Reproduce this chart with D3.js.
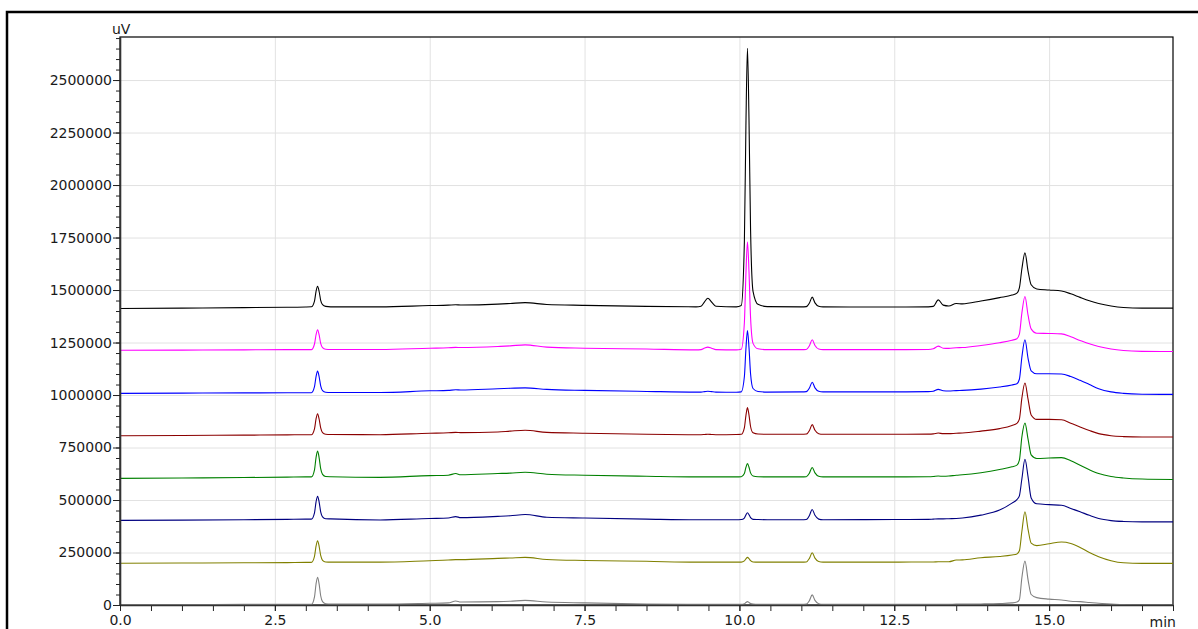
<!DOCTYPE html>
<html>
<head>
<meta charset="utf-8">
<script src="https://cdn.jsdelivr.net/npm/d3@7"></script>
<style>
  body { margin: 0; background: #fff; }
  svg { display: block; font-family: "DejaVu Sans", sans-serif; }
</style>
</head>
<body>
<svg id="chart" width="1198" height="629"></svg>
<script>
// retention time (min), shared by every trace
const times = [
  0, 1.0, 2.0, 2.7, 3.0, 3.09,
  3.14, 3.165, 3.19, 3.215, 3.24, 3.27, 3.32, 3.4,
  4.2, 5.0, 5.3, 5.42, 5.5, 6.1, 6.3, 6.54, 6.89, 7.5, 8.5, 9.3,
  9.38, 9.44, 9.49, 9.55, 9.62,
  9.95,
  10.03, 10.08, 10.105, 10.13, 10.155, 10.18, 10.22, 10.3, 10.45,
  11.0,
  11.08, 11.13, 11.175, 11.22, 11.28, 11.35,
  12.5, 13.05,
  13.13, 13.21, 13.29, 13.38, 13.5, 13.6,
  13.9, 14.2, 14.4, 14.48,
  14.52, 14.56, 14.61, 14.66, 14.71, 14.8,
  15.0, 15.2, 15.35, 15.5, 15.65, 15.8, 16.0, 16.2, 16.5, 17.0
];

// signal of each injection, in thousands of uV
const black = [
  1412, 1414, 1416, 1418, 1419, 1420,
  1447, 1494, 1518, 1493, 1451, 1430, 1422, 1420,
  1420, 1426, 1428, 1430, 1429, 1433, 1436, 1440, 1431, 1427, 1422, 1420,
  1423, 1445, 1461, 1443, 1423,
  1420,
  1426, 1728, 2282, 2651, 2306, 1789, 1494, 1432, 1421,
  1420,
  1421, 1438, 1466, 1439, 1423, 1420,
  1419, 1420,
  1422, 1453, 1428, 1424, 1436, 1434,
  1448, 1464, 1476, 1485,
  1510, 1600, 1677, 1590, 1525, 1505,
  1500, 1495, 1482, 1465, 1449, 1436, 1424, 1417, 1414, 1414
];
const magenta = [
  1213, 1214, 1215, 1216, 1216, 1216,
  1243, 1287, 1311, 1286, 1246, 1226, 1218, 1217,
  1217, 1223, 1225, 1227, 1226, 1231, 1234, 1239, 1228, 1223, 1219, 1215,
  1216, 1224, 1228, 1223, 1216,
  1215,
  1218, 1344, 1576, 1730, 1586, 1370, 1246, 1220, 1216,
  1216,
  1217, 1235, 1263, 1236, 1219, 1216,
  1216, 1217,
  1220, 1233, 1223, 1222, 1225, 1226,
  1236, 1249, 1261, 1268,
  1290, 1390, 1469, 1380, 1315, 1294,
  1293, 1291, 1277, 1260, 1244, 1231, 1219, 1212, 1208, 1207
];
const blue = [
  1008, 1009, 1010, 1011, 1011, 1011,
  1040, 1088, 1114, 1087, 1044, 1021, 1013, 1012,
  1012, 1020, 1022, 1025, 1024, 1030, 1032, 1034, 1027, 1022, 1017, 1014,
  1014, 1016, 1018, 1016, 1014,
  1013,
  1015, 1087, 1219, 1307, 1225, 1101, 1031, 1017, 1014,
  1015,
  1016, 1033, 1061, 1034, 1018, 1015,
  1015, 1016,
  1018, 1027, 1020, 1019, 1021, 1022,
  1028, 1038, 1048, 1054,
  1075, 1180, 1263, 1175, 1115, 1101,
  1101, 1100, 1088, 1070, 1050, 1030, 1015, 1008, 1004, 1003
];
const darkRed = [
  806, 807, 809, 810, 811, 811,
  839, 886, 911, 885, 843, 821, 813, 812,
  811, 818, 820, 822, 821, 824, 828, 832, 822, 818, 813, 811,
  811, 812, 813, 812, 811,
  812,
  813, 844, 902, 940, 904, 850, 820, 814, 813,
  813,
  814, 831, 859, 832, 816, 813,
  813, 814,
  815, 819, 816, 816, 818, 819,
  828, 840, 855, 865,
  885, 985, 1057, 980, 905, 884,
  884, 882, 866, 848, 831, 816, 806, 802, 800, 800
];
const green = [
  603, 605, 607, 609, 610, 610,
  644, 702, 733, 701, 649, 622, 612, 611,
  608, 616, 618, 626, 620, 626, 628, 632, 623, 618, 613, 610,
  610, 610, 610, 610, 610,
  610,
  611, 626, 655, 674, 656, 629, 614, 611, 610,
  610,
  611, 628, 655, 629, 613, 610,
  610, 611,
  612, 614, 613, 614, 618, 620,
  630, 645, 658, 666,
  690, 800, 866, 790, 715, 698,
  700, 702, 687, 665, 644, 626, 612, 605, 600, 598
];
const navy = [
  403, 404, 406, 408, 409, 409,
  439, 491, 518, 490, 444, 420, 411, 410,
  405, 412, 414, 421, 416, 422, 425, 431, 418, 414, 409, 406,
  406, 406, 406, 406, 406,
  406,
  407, 414, 429, 439, 430, 416, 408, 407, 406,
  406,
  407, 426, 455, 427, 409, 406,
  407, 408,
  409, 410, 410, 411, 412, 414,
  428, 452, 485, 502,
  520, 600, 694, 610, 510, 482,
  478, 475, 460, 444, 427, 412, 402, 398, 396, 396
];
const olive = [
  199, 200, 201, 202, 203, 203,
  232, 280, 306, 279, 236, 213, 205, 204,
  204, 211, 214, 216, 216, 222, 224, 227, 217, 212, 208, 204,
  204, 204, 204, 204, 204,
  204,
  204, 210, 220, 227, 221, 211, 205, 204, 204,
  204,
  205, 222, 249, 223, 207, 204,
  204, 205,
  205, 206, 206, 206, 214, 215,
  225, 231, 238, 243,
  258, 350, 444, 360, 295, 283,
  292, 300, 293, 274, 250, 230, 211, 201, 198, 198
];
const gray = [
  2, 2, 3, 3, 3, 3,
  39, 100, 132, 99, 44, 16, 6, 4,
  4, 8, 10, 19, 14, 16, 18, 22, 14, 10, 5, 3,
  3, 3, 3, 3, 3,
  3,
  3, 6, 12, 16, 12, 7, 4, 3, 3,
  3,
  4, 21, 48, 22, 6, 3,
  3, 3,
  3, 3, 3, 3, 4, 4,
  5, 7, 10, 14,
  25, 130, 209, 120, 50, 35,
  28, 24, 18, 16, 12, 8, 5, 2, 1, 0
];

const xTicks = [0, 2.5, 5, 7.5, 10, 12.5, 15];
const yTicks = [0, 250000, 500000, 750000, 1000000, 1250000, 1500000, 1750000, 2000000, 2250000, 2500000];

const traces = [
  { values: black, color: "#000000" },
  { values: magenta, color: "#ff00ff" },
  { values: blue, color: "#0000ff" },
  { values: darkRed, color: "#8b0000" },
  { values: green, color: "#008000" },
  { values: navy, color: "#000080" },
  { values: olive, color: "#808000" },
  { values: gray, color: "#808080" }
];

const svg = d3.select("#chart");
const margin = { top: 37, right: 25, bottom: 24, left: 120 };
const width = 1198, height = 629;

const x = d3.scaleLinear()
  .domain([0, 17])
  .range([margin.left, width - margin.right]);

const y = d3.scaleLinear()
  .domain([0, 2705000])
  .range([height - margin.bottom, margin.top]);

// outer frame of the report page
svg.append("rect")
  .attr("x", 7).attr("y", 12)
  .attr("width", 1300).attr("height", 800)
  .attr("fill", "none")
  .attr("stroke", "#000")
  .attr("stroke-width", 2.5);

// grid
svg.append("g")
  .attr("transform", `translate(0,${y(0)})`)
  .call(d3.axisBottom(x).tickValues(xTicks).tickSize(-(y(0) - margin.top)).tickFormat(""))
  .call((g) => g.select(".domain").remove())
  .call((g) => g.selectAll("line").attr("stroke", "#e2e2e2"));

svg.append("g")
  .attr("transform", `translate(${margin.left},0)`)
  .call(d3.axisLeft(y).tickValues(yTicks).tickSize(-(x(17) - margin.left)).tickFormat(""))
  .call((g) => g.select(".domain").remove())
  .call((g) => g.selectAll("line").attr("stroke", "#e2e2e2"));

// plot border
svg.append("rect")
  .attr("x", x(0)).attr("y", y.range()[1])
  .attr("width", x(17) - x(0))
  .attr("height", y(0) - y.range()[1])
  .attr("fill", "none")
  .attr("stroke", "#000")
  .attr("stroke-width", 1.2);

// traces
const line = d3.line()
  .x((d, i) => x(times[i]))
  .y((d) => y(d * 1000))
  .curve(d3.curveMonotoneX);

svg.append("g")
  .selectAll("path")
  .data(traces)
  .join("path")
  .attr("fill", "none")
  .attr("stroke", (d) => d.color)
  .attr("stroke-width", 1.1)
  .attr("d", (d) => line(d.values));

// minor ticks
svg.append("g")
  .attr("transform", `translate(${margin.left},0)`)
  .call(d3.axisLeft(y).tickValues(d3.range(0, 2700001, 50000)).tickSize(4).tickFormat(""))
  .call((g) => g.select(".domain").remove())
  .call((g) => g.selectAll("line").attr("stroke", "#222"));

svg.append("g")
  .attr("transform", `translate(0,${y(0)})`)
  .call(d3.axisBottom(x).tickValues(d3.range(0, 17.01, 0.5)).tickSize(6).tickFormat(""))
  .call((g) => g.select(".domain").remove())
  .call((g) => g.selectAll("line").attr("stroke", "#222"));

// main axes
const yAxis = svg.append("g")
  .attr("transform", `translate(${margin.left},0)`)
  .call(d3.axisLeft(y).tickValues(yTicks).tickSize(7).tickSizeOuter(0).tickFormat(d3.format("d")));

const xAxis = svg.append("g")
  .attr("transform", `translate(0,${y(0)})`)
  .call(d3.axisBottom(x).tickValues(xTicks).tickSize(6).tickSizeOuter(0).tickFormat(d3.format(".1f")));

[yAxis, xAxis].forEach((g) => {
  g.style("font-family", "DejaVu Sans, sans-serif")
    .style("font-size", "14px");
  g.selectAll("text").attr("fill", "#1a1a1a");
  g.selectAll("line").attr("stroke", "#222");
  g.select(".domain").attr("stroke", "#333").attr("stroke-width", 1.6);
});

yAxis.selectAll("text").attr("x", -8);
xAxis.selectAll("text").attr("y", 10);

svg.append("text")
  .attr("x", margin.left - 8)
  .attr("y", 34)
  .attr("font-size", 14)
  .attr("fill", "#1a1a1a")
  .text("uV");

svg.append("text")
  .attr("x", x(17) + 3)
  .attr("y", 627)
  .attr("text-anchor", "end")
  .attr("font-size", 14)
  .attr("fill", "#1a1a1a")
  .text("min");
</script>
</body>
</html>
